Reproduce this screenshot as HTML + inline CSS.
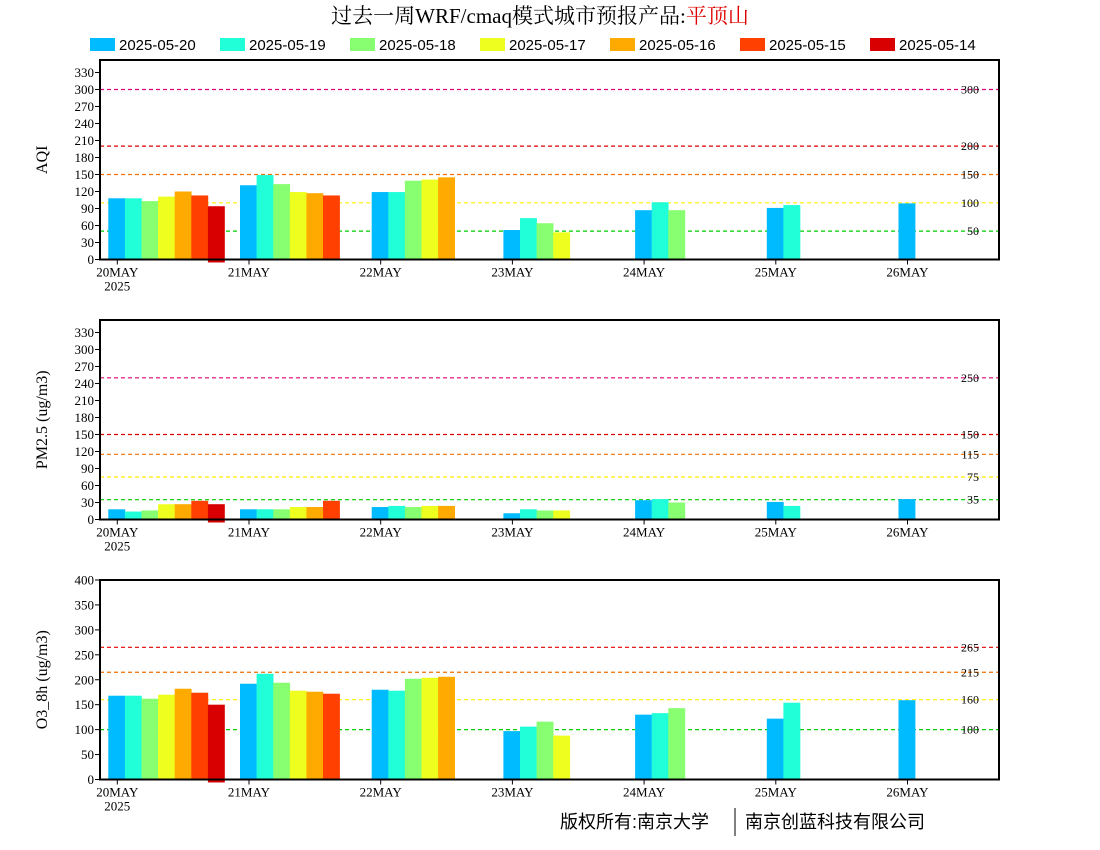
<!DOCTYPE html>
<html><head><meta charset="utf-8"><style>
html,body{margin:0;padding:0;background:#fff;width:1100px;height:850px;overflow:hidden}
svg{display:block}
text{font-family:"Liberation Serif","Noto Serif CJK SC",serif}
</style></head><body>
<svg id="chart" width="1100" height="850" xmlns="http://www.w3.org/2000/svg">
<text x="540" y="23" text-anchor="middle" font-size="21" style="font-family:'Liberation Serif','Noto Serif CJK SC',serif">过去一周WRF/cmaq模式城市预报产品:<tspan fill="#e00000">平顶山</tspan></text>
<g id="legend"></g>
<g id="panels"></g>
<text x="560" y="828" font-size="18" style="font-family:'Liberation Sans','Noto Sans CJK SC',sans-serif">版权所有:南京大学</text>
<line x1="735" y1="808" x2="735" y2="836" stroke="#000" stroke-width="1"/>
<text x="745" y="828" font-size="18" style="font-family:'Liberation Sans','Noto Sans CJK SC',sans-serif">南京创蓝科技有限公司</text>
</svg>
<script>
const days = ["20MAY","21MAY","22MAY","23MAY","24MAY","25MAY","26MAY"];
const seriesNames = ["2025-05-20","2025-05-19","2025-05-18","2025-05-17","2025-05-16","2025-05-15","2025-05-14"];
const seriesColors = ["#00bbff","#20ffd8","#88ff70","#eeff20","#ffaa00","#ff4000","#d80000"];
// values[day][series]
const aqiValues = [[108,108,103,111,120,113,94],[131,149,133,119,117,113],[119,119,139,141,145],[52,73,64,48],[87,101,87],[91,96],[99]];
const pmValues = [[18,14,16,27,27,33,27],[18,18,18,22,22,33],[22,24,22,24,24],[11,18,16,16],[34,36,30],[31,24],[36]];
const o3Values = [[168,168,162,170,182,174,150],[192,212,194,178,176,172],[180,178,202,204,206],[97,106,116,88],[130,133,143],[122,154],[159]];
const aqiTicks = [0,30,60,90,120,150,180,210,240,270,300,330];
const pmTicks = [0,30,60,90,120,150,180,210,240,270,300,330];
const o3Ticks = [0,50,100,150,200,250,300,350,400];
const aqiRefs = [300,200,150,100,50];
const pmRefs = [250,150,115,75,35];
const o3Refs = [265,215,160,100];
const refColorsAqi = ["#e0007a","#e00000","#f07000","#ffee00","#00cc00"];
const refColorsPm = ["#e0007a","#e00000","#f07000","#ffee00","#00cc00"];
const refColorsO3 = ["#e00000","#f07000","#ffee00","#00cc00"];

const NS="http://www.w3.org/2000/svg";
const svg=document.getElementById('chart');
const panelsG=document.getElementById('panels');
function mk(tag,attrs,parent){const e=document.createElementNS(NS,tag);for(const k in attrs)e.setAttribute(k,attrs[k]);(parent||svg).appendChild(e);return e;}

// legend
const lg=document.getElementById('legend');
seriesNames.forEach((n,i)=>{
  const x=90+i*130;
  const r=mk('rect',{x:x,y:38,width:25,height:13,fill:seriesColors[i]},lg);
  
  
  const t=mk('text',{x:x+29,y:50,'font-size':15,style:"font-family:'Liberation Sans',sans-serif"},lg);
  t.textContent=n;
  
  
});

const X0=100,X1=999,dayStep=131.7,firstTick=117.3,barW=16.6;
function xTick(d){return firstTick+d*dayStep;}
function drawPanel(key,top,bottom,maxV,ticks,vals,refs,refColors,title){
  const g=mk('g',{},panelsG);
  
  
  const y=v=>bottom-(v/maxV)*(bottom-top);
  refs.forEach((r,i)=>{
    const l=mk('line',{x1:X0,x2:X1,y1:y(r),y2:y(r),stroke:refColors[i],'stroke-width':1.2,'stroke-dasharray':'4,3'},g);
    
    
    const t=mk('text',{x:979,y:y(r)+4,'text-anchor':'end','font-size':12},g);
    t.textContent=r;
    
    
  });
  vals.forEach((dv,d)=>{
    dv.forEach((v,s)=>{
      const bx=xTick(d)-9+s*barW;
      const b=mk('rect',{x:bx,y:y(v),width:barW+0.3,height:bottom-y(v)+(s===6?3:0),fill:seriesColors[s]},g);
      
      
    });
  });
  const fr=mk('rect',{x:X0,y:top,width:X1-X0,height:bottom-top,fill:'none',stroke:'#000','stroke-width':2},g);
  
  
  ticks.forEach(t=>{
    const l=mk('line',{x1:X0-5,x2:X0,y1:y(t),y2:y(t),stroke:'#000','stroke-width':1},g);
    
    
    const tx=mk('text',{x:X0-6,y:y(t)+4.5,'text-anchor':'end','font-size':13},g);
    tx.textContent=t;
    
    
  });
  days.forEach((dn,d)=>{
    const l=mk('line',{x1:xTick(d),x2:xTick(d),y1:bottom,y2:bottom+5,stroke:'#000','stroke-width':1},g);
    
    
    const tx=mk('text',{x:xTick(d),y:bottom+17,'text-anchor':'middle','font-size':13},g);
    tx.textContent=dn;
    
    
  });
  const yr=mk('text',{x:xTick(0),y:bottom+31,'text-anchor':'middle','font-size':13},g);
  yr.textContent='2025';
  
  
  const cy=(top+bottom)/2;
  const tt=mk('text',{x:47,y:cy,'text-anchor':'middle','font-size':16,transform:'rotate(-90 47 '+cy+')'},g);
  tt.textContent=title;
  
  
}
drawPanel('aqi',60,259.5,352,aqiTicks,aqiValues,aqiRefs,refColorsAqi,'AQI');
drawPanel('pm25',320,519.5,352,pmTicks,pmValues,pmRefs,refColorsPm,'PM2.5 (ug/m3)');
drawPanel('o3',580,779.5,400,o3Ticks,o3Values,o3Refs,refColorsO3,'O3_8h (ug/m3)');
</script>
</body></html>
